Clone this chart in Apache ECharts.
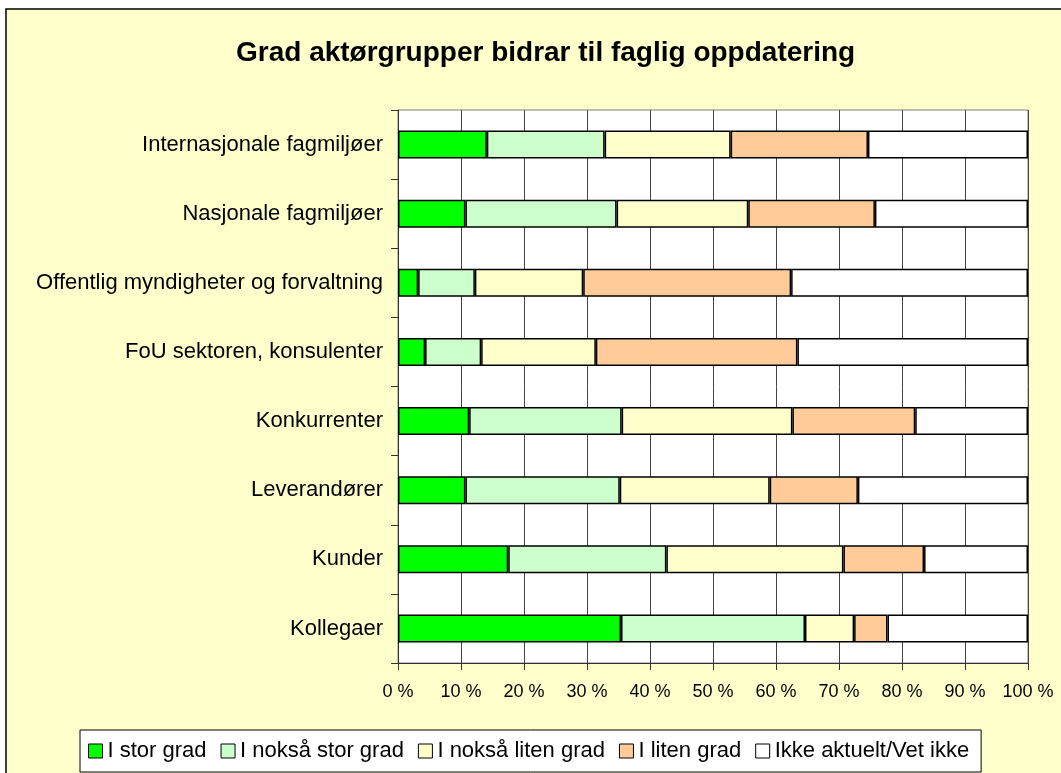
<!DOCTYPE html>
<html>
<head>
<meta charset="utf-8">
<script src="https://cdn.jsdelivr.net/npm/echarts@6/dist/echarts.min.js"></script>
<style>
  html, body { margin: 0; padding: 0; background: #fff; }
  #chart { width: 1061px; height: 773px; }
</style>
</head>
<body>
<div id="chart"></div>
<script>
// Categories, top to bottom
var categories = ['Internasjonale fagmiljøer', 'Nasjonale fagmiljøer', 'Offentlig myndigheter og forvaltning',
    'FoU sektoren, konsulenter', 'Konkurrenter', 'Leverandører', 'Kunder', 'Kollegaer'];

// Share of answers (%) per category
var iStorGrad       = [14.1, 10.7, 3.2, 4.3, 11.3, 10.7, 17.5, 35.4];
var iNoksaStorGrad  = [18.7, 24.0, 9.0, 8.9, 24.2, 24.5, 25.1, 29.2];
var iNoksaLitenGrad = [20.0, 20.9, 17.2, 18.2, 27.1, 23.8, 28.1, 7.8];
var iLitenGrad      = [21.8, 20.1, 33.0, 32.0, 19.5, 14.0, 12.8, 5.3];
var ikkeAktuelt     = [25.4, 24.3, 37.6, 36.6, 17.9, 27.0, 16.5, 22.3];

var seriesNames = ['I stor grad', 'I nokså stor grad', 'I nokså liten grad', 'I liten grad', 'Ikke aktuelt/Vet ikke'];
var seriesData = [iStorGrad, iNoksaStorGrad, iNoksaLitenGrad, iLitenGrad, ikkeAktuelt];
var seriesColors = ['#00FF00', '#CCFFCC', '#FFFFCC', '#FFCC99', '#FFFFFF'];

var myChart = echarts.init(document.getElementById('chart'));

var series = [];
for (var i = 0; i < seriesNames.length; i++) {
    series.push({
        name: seriesNames[i],
        type: 'bar',
        stack: 'total',
        barWidth: 28,
        data: seriesData[i],
        itemStyle: {
            color: seriesColors[i],
            borderColor: '#000',
            borderWidth: 1.5
        }
    });
}

var option = {
    backgroundColor: '#fff',
    animation: false,
    textStyle: { fontFamily: 'Liberation Sans, Arial, sans-serif' },
    // chart frame
    graphic: [{
        type: 'rect',
        z: -100,
        shape: { x: 6, y: 9, width: 1070, height: 780 },
        style: { fill: '#FFFFCC', stroke: '#000', lineWidth: 1.5 }
    }],
    title: {
        text: 'Grad aktørgrupper bidrar til faglig oppdatering',
        left: 231,
        top: 34,
        textStyle: { fontSize: 28, fontWeight: 'bold', color: '#000' }
    },
    legend: {
        data: seriesNames,
        left: 80,
        top: 730,
        icon: 'rect',
        itemWidth: 14,
        itemHeight: 14,
        itemGap: 14,
        padding: [10, 12, 10, 8],
        backgroundColor: '#fff',
        borderColor: '#000',
        borderWidth: 1,
        itemStyle: { borderColor: '#000', borderWidth: 1 },
        textStyle: { fontSize: 22, color: '#000' }
    },
    grid: {
        left: 398,
        right: 33,
        top: 110,
        bottom: 110,
        show: true,
        backgroundColor: '#fff',
        borderColor: '#808080',
        borderWidth: 1
    },
    xAxis: {
        type: 'value',
        min: 0,
        max: 100,
        interval: 10,
        axisLine: { show: true, lineStyle: { color: '#333' } },
        axisTick: { show: true, length: 7, lineStyle: { color: '#333' } },
        splitLine: { show: true, lineStyle: { color: '#444', width: 1 } },
        axisLabel: { formatter: '{value} %', fontSize: 18, color: '#000', margin: 20 }
    },
    yAxis: {
        type: 'category',
        inverse: true,
        data: categories,
        axisLine: { show: true, lineStyle: { color: '#333' } },
        axisTick: { show: true, length: 7, lineStyle: { color: '#333' } },
        axisLabel: { fontSize: 22, color: '#000', margin: 15 }
    },
    series: series
};
myChart.setOption(option);
</script>
</body>
</html>
